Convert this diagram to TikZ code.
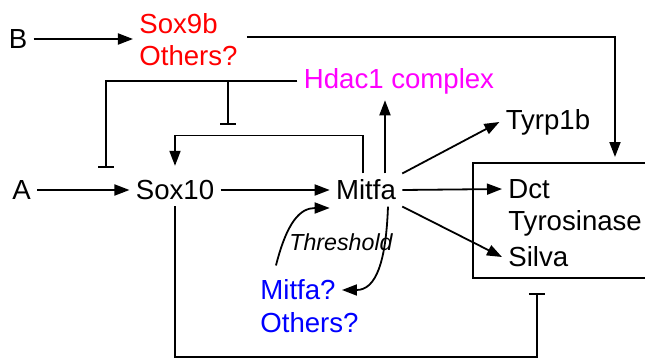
\documentclass[tikz,border=0pt]{standalone}
\usepackage{fontspec}
\setmainfont{Liberation Sans}
\usetikzlibrary{arrows.meta}
\definecolor{hdacmag}{RGB}{255,0,255}
\definecolor{soxred}{RGB}{255,0,0}
\definecolor{qblue}{RGB}{0,0,255}
\begin{document}
\begin{tikzpicture}[x=0.5pt,y=-0.5pt,
  lbl/.style={inner sep=3pt, font=\fontsize{13.8}{16}\selectfont},
  arr/.style={line width=0.9pt,-{Triangle[length=7.5pt,width=5.5pt]}},
  inh/.style={line width=0.9pt,-{Bar[width=8pt,line width=0.9pt]}},
  boxline/.style={line width=0.9pt}]
\useasboundingbox (0,0) rectangle (645,360);
% target box (runs off the right edge)
\coordinate (boxnw) at (473,163);
\coordinate (boxse) at (720,278);
\draw[boxline] (boxse) -| (boxnw) -| (boxse);
% nodes
\node[lbl] (B) at (18,39) {B};
\node[lbl,soxred,align=left,anchor=west] (sox9b) at (133,40) {Sox9b\\Others?};
\node[lbl,hdacmag] (hdac) at (399,81) {Hdac1 complex};
\node[lbl] (A) at (21.5,190) {A};
\node[lbl] (Sox10) at (175,190) {Sox10};
\node[lbl] (Mitfa) at (366,190) {Mitfa};
\node[lbl] (tyrp) at (548,122) {Tyrp1b};
\node[lbl,anchor=west] (dct) at (502,189) {Dct};
\node[lbl,anchor=west] (tyro) at (502,223) {Tyrosinase};
\node[lbl,anchor=west] (silva) at (502,257) {Silva};
\node[lbl,qblue,anchor=west] (mq) at (254,290) {Mitfa?};
\node[lbl,qblue,anchor=west] (oq) at (254,323) {Others?};
\node[inner sep=3pt,font=\fontsize{11.6}{14}\selectfont\itshape] (thr) at (341,242) {Threshold};
% helper coordinates
\coordinate (boxin) at (615,157);
\coordinate (barA) at (106,168);
\coordinate (barB) at (228,125);
\coordinate (boxbar) at (537,293);
\coordinate (bottom) at (0,357);
% connectors
\draw[arr] (B) -- (sox9b.west |- B);
\draw[arr] ([xshift=1.5pt,yshift=1.5pt]sox9b.east) -| (boxin);
\draw[inh] (hdac.west) -| (barA);
\draw[inh] (barB |- hdac.west) -- (barB);
\draw[arr] ([xshift=-1.5pt]Mitfa.north) -- ++(0,-38) -| ([yshift=4pt]Sox10.north);
\draw[arr] ([xshift=9.5pt]Mitfa.north) -- ([xshift=9.5pt]Mitfa.north |- hdac.south);
\draw[arr] (A.east) -- (Sox10.west);
\draw[arr] (Sox10.east) -- (Mitfa.west);
\draw[arr] (Mitfa.north east) -- (tyrp.west);
\draw[arr] (Mitfa.east) -- (dct.west);
\draw[arr] (Mitfa.south east) -- (silva.west);
\draw[arr] ([xshift=-11pt,yshift=4pt]mq.north) .. controls (287,222) and (300,208) .. ([yshift=-9pt]Mitfa.west);
\draw[arr] ([xshift=11pt]Mitfa.south) .. controls (386,262) and (376,290) .. (mq.east);
\draw[inh] (Sox10.south) |- (bottom -| boxbar) -- (boxbar);
\end{tikzpicture}
\end{document}
